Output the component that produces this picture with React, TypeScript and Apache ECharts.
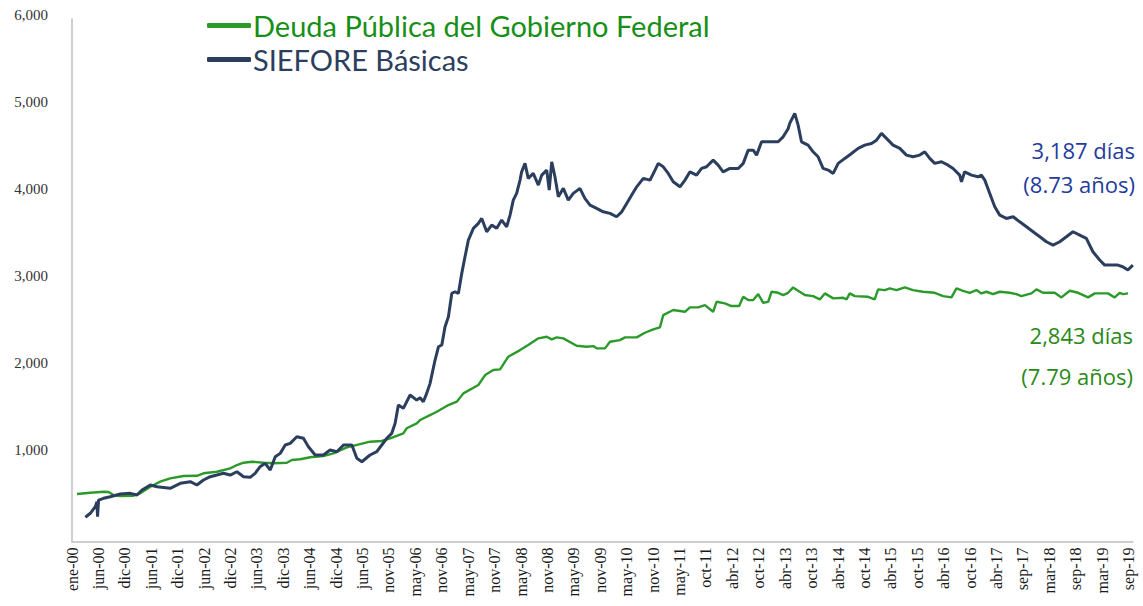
import React, { useEffect, useRef } from "react";
import * as echarts from "echarts";

// x positions are days since 2000-01-01
const tickLabels = [
  "ene-00", "jun-00", "dic-00", "jun-01", "dic-01", "jun-02", "dic-02", "jun-03", "dic-03", "jun-04",
  "dic-04", "jun-05", "nov-05", "may-06", "nov-06", "may-07", "nov-07", "may-08", "nov-08", "may-09",
  "nov-09", "may-10", "nov-10", "may-11", "oct-11", "abr-12", "oct-12", "abr-13", "oct-13", "abr-14",
  "oct-14", "abr-15", "oct-15", "abr-16", "oct-16", "abr-17", "sep-17", "mar-18", "sep-18", "mar-19",
  "sep-19",
];

const siefDays = [
  91, 125, 159, 170, 174, 181, 215, 261, 329, 397, 443, 477, 534, 579, 669, 738, 806, 851, 896, 942,
  987, 1032, 1078, 1124, 1169, 1214, 1248, 1282, 1316, 1351, 1385, 1419, 1453, 1487, 1532, 1577, 1611, 1657, 1713, 1759,
  1805, 1850, 1907, 1941, 1975, 2031, 2077, 2111, 2145, 2179, 2202, 2224, 2258, 2304, 2349, 2372, 2394, 2417, 2440, 2474,
  2497, 2520, 2542, 2565, 2588, 2610, 2633, 2656, 2678, 2701, 2735, 2769, 2792, 2826, 2860, 2894, 2928, 2962, 2985, 3007,
  3030, 3053, 3064, 3087, 3109, 3143, 3178, 3201, 3235, 3252, 3269, 3291, 3314, 3348, 3382, 3416, 3461, 3495, 3530, 3575,
  3620, 3666, 3711, 3746, 3780, 3814, 3848, 3893, 3939, 3973, 3995, 4029, 4063, 4097, 4143, 4177, 4211, 4256, 4290, 4324,
  4369, 4403, 4437, 4483, 4540, 4574, 4608, 4642, 4665, 4699, 4755, 4812, 4846, 4880, 4891, 4925, 4948, 4971, 5016, 5050,
  5084, 5118, 5153, 5187, 5221, 5266, 5312, 5357, 5402, 5448, 5482, 5516, 5550, 5595, 5641, 5686, 5731, 5777, 5811, 5845,
  5879, 5925, 5970, 6004, 6049, 6061, 6083, 6129, 6174, 6197, 6220, 6254, 6288, 6322, 6367, 6413, 6458, 6504, 6549, 6595,
  6640, 6685, 6731, 6776, 6821, 6867, 6912, 6957, 7003, 7037, 7082, 7127, 7160, 7195, 7229,
];
const siefValues = [
  278, 324, 400, 457, 285, 476, 496, 514, 545, 553, 534, 591, 649, 629, 611, 668, 687, 649, 706, 744,
  763, 783, 763, 801, 744, 737, 783, 859, 898, 821, 973, 1012, 1108, 1127, 1203, 1185, 1088, 993, 993, 1050,
  1031, 1108, 1108, 955, 916, 993, 1031, 1108, 1185, 1242, 1357, 1567, 1529, 1682, 1624, 1650, 1605, 1701, 1816, 2084,
  2236, 2256, 2466, 2581, 2849, 2868, 2849, 3079, 3269, 3461, 3596, 3653, 3710, 3557, 3633, 3596, 3691, 3614, 3748, 3920,
  3997, 4150, 4245, 4342, 4170, 4227, 4093, 4207, 4265, 4035, 4360, 4188, 3958, 4055, 3920, 3997, 4055, 3940, 3863, 3825,
  3786, 3768, 3729, 3786, 3882, 3978, 4073, 4170, 4150, 4265, 4342, 4303, 4227, 4131, 4073, 4150, 4245, 4207, 4284, 4303,
  4380, 4322, 4245, 4284, 4284, 4342, 4494, 4494, 4437, 4590, 4590, 4590, 4647, 4740, 4801, 4916, 4781, 4590, 4552, 4475,
  4418, 4284, 4265, 4227, 4342, 4399, 4456, 4514, 4552, 4571, 4609, 4686, 4629, 4552, 4514, 4437, 4418, 4437, 4475, 4399,
  4342, 4361, 4322, 4284, 4207, 4131, 4245, 4207, 4188, 4207, 4150, 3997, 3844, 3748, 3710, 3729, 3671, 3614, 3557, 3499,
  3442, 3404, 3442, 3499, 3557, 3519, 3481, 3327, 3232, 3174, 3174, 3174, 3155, 3117, 3174,
];

const deudaDays = [
  34, 125, 215, 249, 283, 329, 419, 465, 534, 601, 669, 760, 851, 896, 987, 1078, 1124, 1169, 1226, 1305,
  1373, 1464, 1498, 1555, 1623, 1713, 1781, 1873, 1963, 2031, 2111, 2168, 2258, 2281, 2349, 2372, 2440, 2486, 2565, 2622,
  2667, 2769, 2815, 2871, 2917, 2973, 3053, 3109, 3178, 3235, 3269, 3303, 3348, 3439, 3507, 3552, 3575, 3632, 3666, 3734,
  3768, 3848, 3904, 3961, 4006, 4029, 4097, 4177, 4211, 4267, 4313, 4369, 4392, 4449, 4494, 4546, 4574, 4608, 4642, 4676,
  4710, 4744, 4767, 4812, 4846, 4880, 4914, 4948, 4994, 5050, 5096, 5130, 5187, 5255, 5278, 5300, 5334, 5425, 5470, 5493,
  5539, 5573, 5618, 5675, 5731, 5799, 5879, 5936, 5993, 6027, 6072, 6118, 6163, 6197, 6231, 6276, 6322, 6390, 6435, 6469,
  6538, 6572, 6617, 6697, 6742, 6799, 6856, 6924, 6970, 7060, 7105, 7139, 7162, 7196,
];
const deudaValues = [
  545, 560, 572, 568, 534, 522, 526, 553, 629, 687, 725, 752, 755, 783, 801, 840, 878, 905, 916, 905,
  898, 905, 936, 944, 967, 982, 1012, 1081, 1119, 1146, 1154, 1185, 1242, 1300, 1357, 1395, 1452, 1490, 1567, 1605,
  1701, 1797, 1911, 1969, 1977, 2122, 2198, 2256, 2333, 2351, 2321, 2344, 2333, 2248, 2236, 2244, 2218, 2218, 2294, 2313,
  2344, 2344, 2397, 2436, 2459, 2600, 2658, 2638, 2689, 2689, 2715, 2638, 2753, 2734, 2704, 2704, 2810, 2772, 2772, 2841,
  2741, 2753, 2868, 2856, 2830, 2856, 2918, 2879, 2830, 2818, 2780, 2849, 2792, 2799, 2780, 2849, 2818, 2810, 2780, 2895,
  2887, 2907, 2887, 2918, 2887, 2868, 2856, 2818, 2803, 2907, 2879, 2856, 2887, 2849, 2868, 2841, 2868, 2856, 2841, 2818,
  2849, 2895, 2856, 2856, 2803, 2879, 2856, 2803, 2849, 2849, 2803, 2856, 2841, 2849,
];

const seriesNames = ["Deuda Pública del Gobierno Federal", "SIEFORE Básicas"];
const annotations = ["3,187 días", "(8.73 años)", "2,843 días", "(7.79 años)"];

const GREEN = "#2b9a2b";
const NAVY = "#2b3e5e";

export default function App() {
  const ref = useRef<HTMLDivElement>(null);
  useEffect(() => {
    if (!ref.current) return;
    const chart = echarts.init(ref.current, undefined, { renderer: "svg" });
    const zip = (xs: number[], ys: number[]) => xs.map((x, i) => [x, ys[i]]);
    chart.setOption({
      animation: false,
      backgroundColor: "#ffffff",
      grid: { left: 72, right: 10, top: 19, bottom: 64.5, containLabel: false },
      legend: {
        orient: "vertical",
        left: 202,
        top: 6,
        itemWidth: 44,
        itemHeight: 5,
        itemGap: 5,
        icon: "roundRect",
        textStyle: { fontFamily: "Lato", fontSize: 29, padding: [0, 0, 0, -3] },
        data: [
          { name: seriesNames[0], textStyle: { color: "#178f17" } },
          { name: seriesNames[1], textStyle: { color: NAVY } },
        ],
      },
      xAxis: {
        type: "value",
        min: 0,
        max: 7230,
        interval: 180,
        splitLine: { show: false },
        axisTick: { show: false },
        axisLine: { lineStyle: { color: "#bfbfbf", width: 1.5 } },
        axisLabel: {
          rotate: 90,
          margin: 6,
          showMaxLabel: false,
          fontFamily: "Liberation Serif",
          fontSize: 16,
          color: "#1a1a1a",
          formatter: (v: number) => (v % 180 === 0 ? tickLabels[v / 180] ?? "" : ""),
        },
      },
      yAxis: {
        type: "value",
        min: 0,
        max: 6000,
        interval: 1000,
        splitLine: { show: false },
        axisTick: { show: false },
        axisLine: { show: true, lineStyle: { color: "#bfbfbf", width: 1.5 } },
        axisLabel: {
          margin: 24,
          fontFamily: "Liberation Serif",
          fontSize: 15,
          color: "#333333",
          verticalAlign: "bottom",
          lineHeight: 8,
          formatter: (v: number) => (v === 0 ? "" : v.toLocaleString("en-US")),
        },
      },
      series: [
        {
          name: seriesNames[0],
          type: "line",
          showSymbol: false,
          data: zip(deudaDays, deudaValues),
          itemStyle: { color: GREEN },
          lineStyle: { color: GREEN, width: 2.4 },
        },
        {
          name: seriesNames[1],
          type: "line",
          showSymbol: false,
          data: zip(siefDays, siefValues),
          itemStyle: { color: NAVY },
          lineStyle: { color: NAVY, width: 3 },
        },
      ],
      graphic: [
        { type: "text", right: 8, top: 139, style: { text: annotations[0], fontFamily: "Open Sans", fontSize: 22, fill: "#1f3c9c" } },
        { type: "text", right: 8, top: 173, style: { text: annotations[1], fontFamily: "Open Sans", fontSize: 22, fill: "#1f3c9c" } },
        { type: "text", right: 10, top: 324, style: { text: annotations[2], fontFamily: "Open Sans", fontSize: 22, fill: "#2a8a16" } },
        { type: "text", right: 10, top: 365, style: { text: annotations[3], fontFamily: "Open Sans", fontSize: 22, fill: "#2a8a16" } },
      ],
    });
    return () => chart.dispose();
  }, []);
  return <div ref={ref} style={{ position: "fixed", left: 0, top: 0, width: 1143, height: 606 }} />;
}
